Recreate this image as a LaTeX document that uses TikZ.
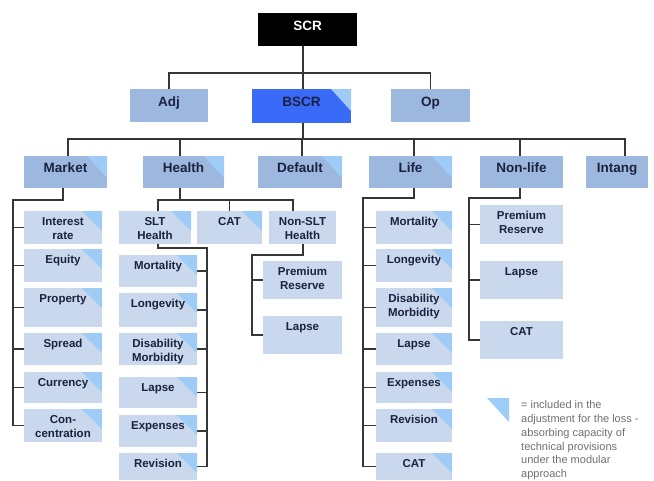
\documentclass[tikz,border=0pt]{standalone}
\usepackage{fontspec}
\setmainfont{Liberation Sans}
\usetikzlibrary{backgrounds}
\pgfdeclarelayer{paper}
\pgfsetlayers{paper,background,main}
\definecolor{lvA}{HTML}{9DB8DE}
\definecolor{lvB}{HTML}{C9D8EC}
\definecolor{bscrc}{HTML}{3A6AF8}
\definecolor{flagc}{HTML}{9ECCF7}
\definecolor{linec}{HTML}{363636}
\definecolor{txtc}{HTML}{1B2140}
\definecolor{legc}{HTML}{707070}
\tikzset{
  basebox/.style={draw=none, inner sep=0pt, outer sep=0pt, rectangle},
  scrbox/.style={basebox, fill=black},
  bscrbox/.style={basebox, fill=bscrc},
  midbox/.style={basebox, fill=lvA},
  kidbox/.style={basebox, fill=lvB},
  toptxt/.style={anchor=north, yshift=-7.5pt, inner sep=0pt, align=center, font=\bfseries\fontsize{13.5}{15}\selectfont, text=txtc},
  scrtxt/.style={toptxt, text=white},
  midtxt/.style={anchor=north, yshift=-7pt, inner sep=0pt, align=center, font=\bfseries\fontsize{13.5}{15}\selectfont, text=txtc},
  kidtxt/.style={anchor=north, yshift=-6pt, inner sep=0pt, align=center, font=\bfseries\fontsize{11.5}{14}\selectfont, text=txtc},
  conn/.style={draw=linec, line width=1.5pt, line cap=rect},
}
% name, x1, y1, x2, y2, box style, text style, text
\newcommand\mkbox[8]{%
  \node[#6, minimum width={(#4-#2)*1pt}, minimum height={(#5-#3)*1pt}, anchor=north west] (#1) at (#2,#3) {};
  \node[#7] (#1-t) at (#1.north) {#8};
}
\newcommand\flagS[1]{\fill[flagc] (#1.north east) -- ++(-20pt,0pt) -- ++(20pt,-20pt) -- cycle;}
\newcommand\flagL[1]{\fill[flagc] (#1.north east) -- ++(-20pt,0pt) -- ++(20pt,-22pt) -- cycle;}
\begin{document}
\begin{tikzpicture}[x=1pt,y=-1pt]
\useasboundingbox (0,0) rectangle (654,480);
\begin{pgfonlayer}{paper}
\fill[white] (0,0) rectangle (654,480);
\end{pgfonlayer}

% top levels
\mkbox{scr}{258}{13}{357}{46}{scrbox}{scrtxt}{SCR}
\mkbox{adj}{130}{89}{208}{122}{midbox}{toptxt}{Adj}
\mkbox{bscr}{252}{89}{351}{123}{bscrbox}{toptxt}{BSCR}
\mkbox{op}{391}{89}{470}{122}{midbox}{toptxt}{Op}
\flagL{bscr}

% level 2
\mkbox{mkt}{24}{156}{107}{188}{midbox}{midtxt}{Market}
\mkbox{hl}{143}{156}{224}{188}{midbox}{midtxt}{Health}
\mkbox{dft}{258}{156}{342}{188}{midbox}{midtxt}{Default}
\mkbox{life}{369}{156}{452}{188}{midbox}{midtxt}{Life}
\mkbox{nlife}{480}{156}{563}{188}{midbox}{midtxt}{Non-life}
\mkbox{intang}{586}{156}{648}{188}{midbox}{midtxt}{Intang}
\flagL{mkt}\flagL{hl}\flagL{dft}\flagL{life}

% market children
\mkbox{m1}{24}{211}{102}{244}{kidbox}{kidtxt}{Interest\\rate}
\mkbox{m2}{24}{249}{102}{282}{kidbox}{kidtxt}{Equity}
\mkbox{m3}{24}{288}{102}{327}{kidbox}{kidtxt}{Property}
\mkbox{m4}{24}{333}{102}{365}{kidbox}{kidtxt}{Spread}
\mkbox{m5}{24}{372}{102}{403}{kidbox}{kidtxt}{Currency}
\mkbox{m6}{24}{409}{102}{442}{kidbox}{kidtxt}{Con-\\centration}
\foreach \n in {m1,m2,m3,m4,m5,m6} {\flagS{\n}}

% health children
\mkbox{slt}{119}{211}{191}{244}{kidbox}{kidtxt}{SLT\\Health}
\mkbox{cat}{197}{211}{262}{244}{kidbox}{kidtxt}{CAT}
\mkbox{nslt}{269}{211}{336}{244}{kidbox}{kidtxt}{Non-SLT\\Health}
\flagS{slt}\flagS{cat}

\mkbox{s1}{119}{255}{197}{287}{kidbox}{kidtxt}{Mortality}
\mkbox{s2}{119}{293}{197}{327}{kidbox}{kidtxt}{Longevity}
\mkbox{s3}{119}{333}{197}{365}{kidbox}{kidtxt}{Disability\\Morbidity}
\mkbox{s4}{119}{377}{197}{408}{kidbox}{kidtxt}{Lapse}
\mkbox{s5}{119}{415}{197}{447}{kidbox}{kidtxt}{Expenses}
\mkbox{s6}{119}{453}{197}{480}{kidbox}{kidtxt}{Revision}
\foreach \n in {s1,s2,s3,s4,s5,s6} {\flagS{\n}}

\mkbox{n1}{263}{261}{342}{299}{kidbox}{kidtxt}{Premium\\Reserve}
\mkbox{n2}{263}{316}{342}{354}{kidbox}{kidtxt}{Lapse}

% life children
\mkbox{l1}{376}{211}{452}{244}{kidbox}{kidtxt}{Mortality}
\mkbox{l2}{376}{249}{452}{282}{kidbox}{kidtxt}{Longevity}
\mkbox{l3}{376}{288}{452}{327}{kidbox}{kidtxt}{Disability\\Morbidity}
\mkbox{l4}{376}{333}{452}{365}{kidbox}{kidtxt}{Lapse}
\mkbox{l5}{376}{372}{452}{403}{kidbox}{kidtxt}{Expenses}
\mkbox{l6}{376}{409}{452}{442}{kidbox}{kidtxt}{Revision}
\mkbox{l7}{376}{453}{452}{480}{kidbox}{kidtxt}{CAT}
\foreach \n in {l1,l2,l3,l4,l5,l6,l7} {\flagS{\n}}

% non-life children
\mkbox{q1}{480}{205}{563}{244}{kidbox}{kidtxt}{Premium\\Reserve}
\mkbox{q2}{480}{261}{563}{299}{kidbox}{kidtxt}{Lapse}
\mkbox{q3}{480}{321}{563}{359}{kidbox}{kidtxt}{CAT}

% legend
\fill[flagc] (487,398) -- (509,398) -- (509,422) -- cycle;
\node[anchor=north west, inner sep=0pt, align=left, text=legc,
      font=\fontsize{11}{13.8}\selectfont] (legend) at (521,400.5)
  {= included in the\\adjustment for the loss -\\absorbing capacity of\\technical provisions\\under the modular\\approach};

% connectors
\begin{pgfonlayer}{background}
\coordinate (j1) at (303,73);
\coordinate (j2) at (303,139);
\draw[conn] (scr.south -| j1) -- (bscr.north -| j1);
\draw[conn] (adj.north) |- (j1) -| (op.north);
\draw[conn] (bscr.south -| j2) -- (j2);
\draw[conn] ([xshift=2.5pt]mkt.north) |- ([xshift=8pt]intang.north |- j2) -- ([xshift=8pt]intang.north);
\draw[conn] ([xshift=-3.5pt]hl.north |- j2) -- ([xshift=-3.5pt]hl.north);
\draw[conn] ([xshift=2pt]dft.north |- j2) -- ([xshift=2pt]dft.north);
\draw[conn] ([xshift=3.5pt]life.north |- j2) -- ([xshift=3.5pt]life.north);
\draw[conn] ([xshift=-1.5pt]nlife.north |- j2) -- ([xshift=-1.5pt]nlife.north);

% market spine
\coordinate (ms) at (13,200);
\draw[conn] ([xshift=-2.5pt]mkt.south) |- (ms) -- (ms |- m6.west) -- (m6.west);
\foreach \n in {m1,m2,m3,m4,m5} {\draw[conn] (ms |- \n.west) -- (\n.west);}

% health
\coordinate (hs) at (0,200);
\draw[conn] ([xshift=-3.5pt]hl.south) -- ([xshift=-3.5pt]hl.south |- hs);
\draw[conn] ([xshift=3pt]slt.north) |- ([xshift=-9.5pt]nslt.north |- hs) -- ([xshift=-9.5pt]nslt.north);
\draw[conn] (cat.north) -- (cat.north |- hs);

\coordinate (ss) at (207,248);
\draw[conn] ([xshift=3pt]slt.south) |- (ss) -- (ss |- s6.east) -- (s6.east);
\foreach \n in {s1,s2,s3,s4,s5} {\draw[conn] (ss |- \n.east) -- (\n.east);}

\coordinate (ns) at (252,255);
\draw[conn] ([xshift=0.5pt]nslt.south) |- (ns) -- (ns |- n2.west) -- (n2.west);
\draw[conn] (ns |- n1.west) -- (n1.west);

% life
\coordinate (ls) at (363,198);
\draw[conn] ([xshift=3.5pt]life.south) |- (ls) -- (ls |- l7.west) -- (l7.west);
\foreach \n in {l1,l2,l3,l4,l5,l6} {\draw[conn] (ls |- \n.west) -- (\n.west);}

% non-life
\coordinate (nls) at (469,198);
\draw[conn] ([xshift=-1.5pt]nlife.south) |- (nls) -- (nls |- q3.west) -- (q3.west);
\foreach \n in {q1,q2} {\draw[conn] (nls |- \n.west) -- (\n.west);}
\end{pgfonlayer}
\end{tikzpicture}
\end{document}
